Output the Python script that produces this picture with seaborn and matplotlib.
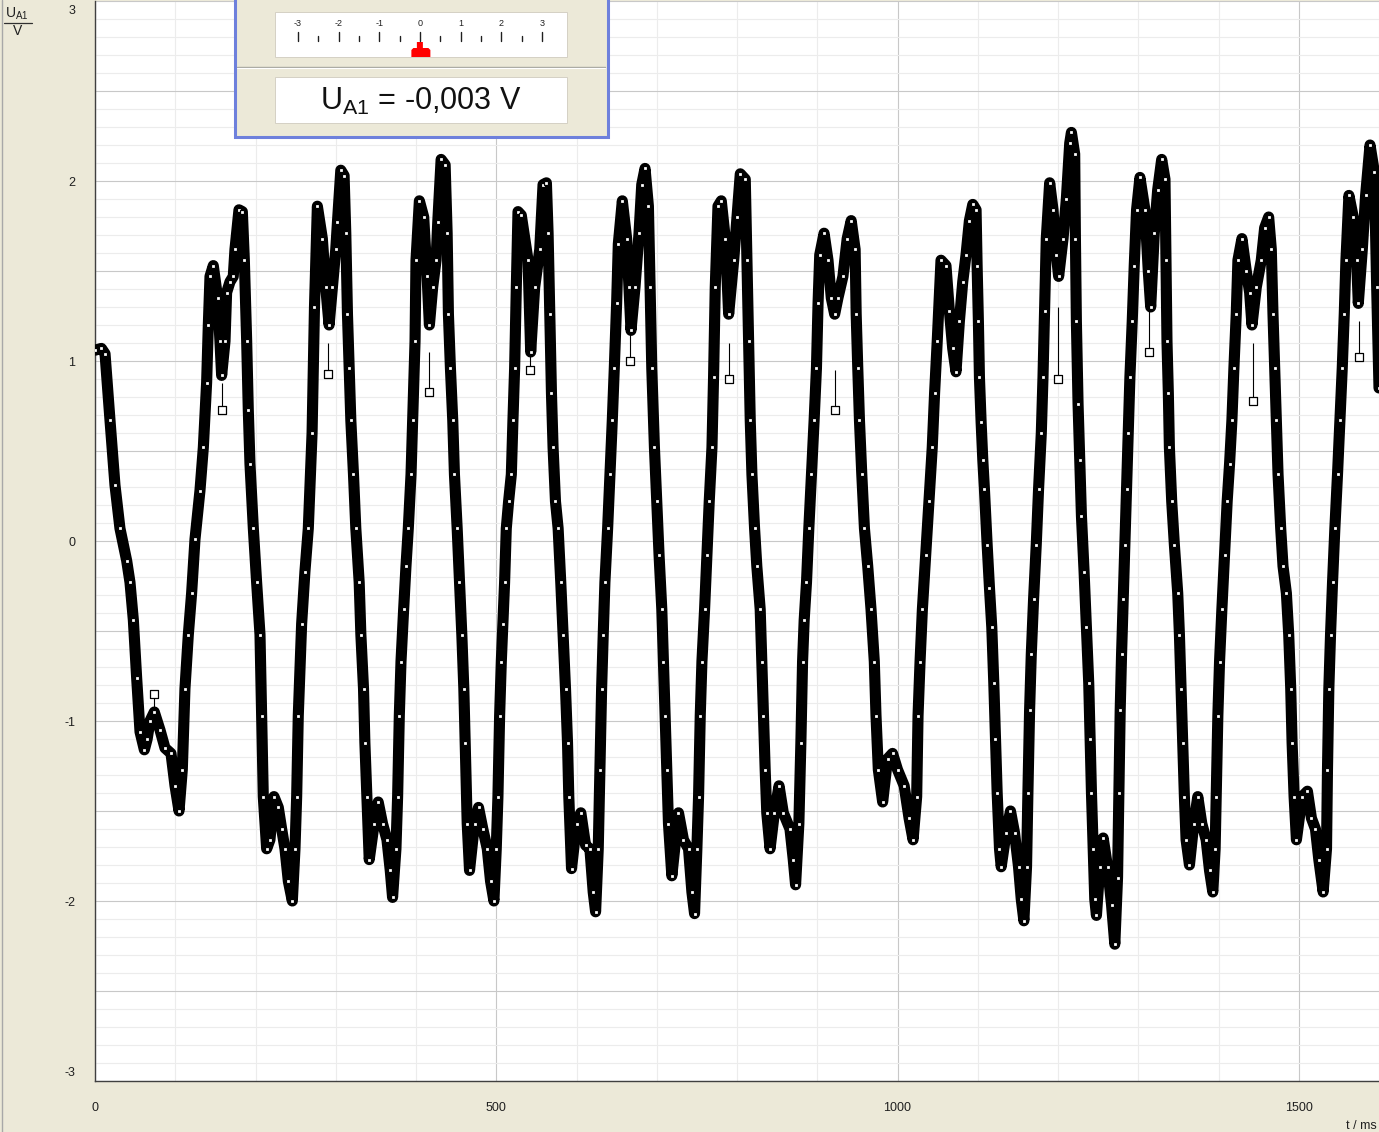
import numpy as np
import pandas as pd
import seaborn as sns
import matplotlib.pyplot as plt
from matplotlib.patches import Rectangle, Polygon
from matplotlib.ticker import MultipleLocator, FuncFormatter

# U_A1 (V) against t (ms)
t_ms = [0, 8, 12.5, 18.7, 24.9, 31.1, 39.5, 43.6, 47.8, 51.9, 56.1, 61.5, 65, 68.5, 73.9,
        81.0, 87.2, 94.7, 99.7, 104.7, 108.8, 112.1, 116.3, 120.4, 124.6, 130.8, 135.0,
        139.1, 141.2, 143.3, 147.4, 152.8, 155.7, 157.8, 162.0, 164.0, 168.2, 172.3, 174.4,
        179.4, 183.6, 186.1, 189.0, 191.0, 193.1, 197.3, 201.4, 205.6, 207.7, 209.7, 213.9,
        218.0, 223.0, 228.4, 232.6, 236.7, 240.9, 245.9, 249.2, 251.3, 253.3, 257.5, 261.6,
        265.8, 270.5, 273.5, 277.1, 283.3, 287.5, 291.7, 295.8, 300.0, 302.1, 306.3, 310.4,
        312.5, 314.6, 316.7, 318.8, 322.1, 325.0, 329.2, 331.3, 334.6, 336.3, 338.8, 341.7,
        347.9, 352.9, 358.3, 363.8, 367.9, 370.8, 375.0, 377.1, 379.2, 381.3, 384.6, 387.5,
        390.4, 393.8, 395.8, 398.8, 400.0, 404.2, 409.6, 413.8, 416.7, 420.8, 425.0, 427.1,
        431.3, 436.3, 438.8, 440.4, 442.9, 445.8, 447.9, 451.3, 454.2, 457.1, 459.6, 461.3,
        463.8, 466.7, 472.9, 477.9, 483.3, 488.8, 492.9, 497.1, 500.0, 502.1, 504.2, 506.3,
        508.3, 510.4, 512.5, 515.4, 518.8, 520.8, 522.9, 525.0, 527.1, 531.2, 539.6, 542.9,
        547.9, 554.2, 558.3, 562.5, 564.6, 566.7, 568.8, 570.8, 573.8, 577.1, 580.4, 583.3,
        586.3, 588.8, 590.4, 593.8, 600.0, 605.4, 611.3, 616.7, 620.8, 623.8, 627.1, 629.2,
        631.3, 633.3, 635.4, 638.8, 641.7, 644.6, 647.1, 650.0, 652.1, 657.1, 662.5, 665.4,
        667.9, 672.9, 677.9, 681.3, 685.4, 689.6, 691.7, 693.8, 697.1, 700.0, 702.9, 706.3,
        708.3, 710.4, 712.5, 714.6, 718.8, 727.1, 733.3, 739.6, 743.8, 747.1, 750.0, 752.1,
        754.2, 756.3, 759.6, 762.5, 765.4, 768.8, 770.8, 772.9, 776.3, 780.4, 785.4, 789.6,
        795.9, 800.0, 804.1, 810.3, 812.4, 814.4, 816.5, 818.6, 821.9, 824.7, 828.9, 830.9,
        833.0, 835.1, 837.1, 841.2, 846.6, 852.4, 857.7, 866.0, 870.1, 873.0, 877.1, 879.6,
        881.7, 883.7, 886.6, 889.5, 892.8, 896.1, 899.0, 901.0, 903.1, 908.5, 913.4, 917.5,
        921.7, 925.8, 932.0, 937.3, 942.3, 947.2, 948.5, 950.5, 952.6, 955.5, 958.8, 962.9,
        967.0, 971.1, 973.2, 976.1, 981.5, 987.6, 993.8, 1000.0, 1008.3, 1014.4, 1019.4,
        1023.9, 1025.6, 1028.1, 1031.0, 1035.1, 1039.2, 1043.3, 1046.2, 1049.5, 1054.2,
        1060.4, 1064.6, 1068.8, 1072.9, 1077.1, 1081.3, 1085.4, 1089.6, 1093.8, 1097.9,
        1099.2, 1100.8, 1102.1, 1104.2, 1106.3, 1108.3, 1111.7, 1114.6, 1117.5, 1120.0,
        1122.1, 1124.2, 1127.1, 1129.2, 1135.4, 1140.8, 1145.8, 1150.8, 1154.2, 1157.5,
        1160.8, 1162.5, 1164.6, 1166.7, 1169.6, 1172.9, 1175.8, 1179.2, 1181.3, 1183.3,
        1185.4, 1189.6, 1193.8, 1197.9, 1200.8, 1206.3, 1210.4, 1214.6, 1216.7, 1220.8,
        1221.7, 1222.9, 1225.0, 1227.1, 1229.2, 1232.5, 1235.4, 1238.3, 1240.0, 1241.7,
        1243.8, 1245.8, 1247.9, 1252.1, 1256.3, 1261.7, 1266.7, 1270.8, 1274.2, 1275.8,
        1277.5, 1279.2, 1281.3, 1283.3, 1285.4, 1287.5, 1289.6, 1292.5, 1295.0, 1297.9,
        1302.1, 1308.3, 1312.5, 1315.5, 1320.0, 1324.2, 1329.2, 1333.3, 1334.6, 1335.8,
        1337.5, 1338.8, 1341.7, 1345.0, 1349.2, 1351.3, 1353.3, 1355.4, 1357.5, 1359.6,
        1363.8, 1369.2, 1374.2, 1379.2, 1384.6, 1388.8, 1392.9, 1395.8, 1397.1, 1399.2,
        1401.3, 1404.2, 1407.5, 1410.8, 1413.8, 1416.7, 1419.2, 1422.1, 1424.2, 1429.2,
        1434.6, 1438.8, 1441.7, 1447.1, 1453.3, 1457.5, 1462.5, 1465.8, 1467.9, 1470.0,
        1472.1, 1474.2, 1477.5, 1480.4, 1484.6, 1487.5, 1490.0, 1491.7, 1494.2, 1497.1,
        1504.2, 1510.8, 1515.8, 1520.8, 1525.0, 1530.4, 1534.6, 1535.8, 1537.5, 1539.6,
        1542.1, 1545.0, 1548.3, 1551.3, 1554.2, 1556.7, 1558.8, 1562.5, 1567.9, 1572.1,
        1574.2, 1579.2, 1583.3, 1588.8, 1594.2, 1597.1, 1600.0]
u_v = [1.06, 1.07, 1.04, 0.67, 0.31, 0.07, -0.11, -0.23, -0.44, -0.76, -1.06, -1.16, -1.10,
       -1.00, -0.95, -1.05, -1.15, -1.18, -1.36, -1.50, -1.27, -0.82, -0.52, -0.29, 0.01,
       0.28, 0.52, 0.88, 1.20, 1.47, 1.53, 1.35, 1.11, 0.92, 1.11, 1.38, 1.44, 1.47, 1.62,
       1.84, 1.83, 1.56, 1.11, 0.73, 0.43, 0.07, -0.23, -0.52, -0.97, -1.42, -1.71, -1.66,
       -1.42, -1.48, -1.60, -1.71, -1.89, -2.00, -1.71, -1.42, -0.97, -0.46, -0.17, 0.07,
       0.60, 1.30, 1.86, 1.68, 1.41, 1.20, 1.41, 1.62, 1.77, 2.06, 2.03, 1.71, 1.26, 0.96,
       0.67, 0.37, 0.07, -0.23, -0.52, -0.82, -1.12, -1.42, -1.77, -1.57, -1.45, -1.57,
       -1.66, -1.83, -1.98, -1.71, -1.42, -0.97, -0.67, -0.38, -0.14, 0.07, 0.37, 0.67,
       1.11, 1.56, 1.89, 1.80, 1.47, 1.20, 1.41, 1.56, 1.77, 2.12, 2.09, 1.71, 1.26, 0.96,
       0.67, 0.37, 0.07, -0.23, -0.52, -0.82, -1.12, -1.57, -1.83, -1.57, -1.48, -1.60,
       -1.71, -1.89, -2.00, -1.71, -1.42, -0.97, -0.67, -0.46, -0.23, 0.07, 0.22, 0.37,
       0.67, 0.96, 1.41, 1.83, 1.81, 1.56, 1.05, 1.41, 1.62, 1.98, 1.99, 1.71, 1.26, 0.82,
       0.52, 0.22, 0.07, -0.23, -0.52, -0.82, -1.12, -1.42, -1.82, -1.57, -1.51, -1.69,
       -1.71, -1.95, -2.06, -1.71, -1.27, -0.82, -0.52, -0.23, 0.07, 0.37, 0.67, 0.96,
       1.32, 1.65, 1.89, 1.68, 1.41, 1.17, 1.41, 1.71, 1.98, 2.07, 1.86, 1.41, 0.96, 0.52,
       0.22, -0.08, -0.38, -0.67, -0.97, -1.27, -1.57, -1.86, -1.51, -1.66, -1.71, -1.95,
       -2.07, -1.71, -1.42, -0.97, -0.67, -0.38, -0.08, 0.22, 0.52, 0.91, 1.41, 1.86, 1.89,
       1.68, 1.26, 1.56, 1.80, 2.04, 2.01, 1.56, 1.11, 0.67, 0.37, 0.07, -0.14, -0.38,
       -0.67, -0.97, -1.27, -1.51, -1.71, -1.51, -1.36, -1.51, -1.60, -1.77, -1.91, -1.57,
       -1.12, -0.67, -0.44, -0.23, 0.07, 0.37, 0.67, 0.96, 1.32, 1.59, 1.71, 1.56, 1.35,
       1.26, 1.35, 1.47, 1.68, 1.78, 1.62, 1.26, 0.96, 0.67, 0.37, 0.07, -0.14, -0.38,
       -0.67, -0.97, -1.27, -1.45, -1.21, -1.18, -1.27, -1.36, -1.54, -1.66, -1.42, -0.97,
       -0.67, -0.38, -0.08, 0.22, 0.52, 0.82, 1.11, 1.56, 1.53, 1.28, 1.07, 0.94, 1.22,
       1.44, 1.59, 1.78, 1.87, 1.84, 1.53, 1.22, 0.91, 0.66, 0.45, 0.29, -0.02, -0.26,
       -0.48, -0.79, -1.10, -1.40, -1.71, -1.81, -1.62, -1.50, -1.62, -1.81, -1.99, -2.11,
       -1.81, -1.40, -0.94, -0.63, -0.32, -0.02, 0.29, 0.60, 0.91, 1.28, 1.68, 1.99, 1.84,
       1.59, 1.47, 1.68, 1.90, 2.21, 2.27, 2.15, 1.68, 1.22, 0.76, 0.45, 0.14, -0.17,
       -0.48, -0.79, -1.10, -1.40, -1.71, -1.99, -2.08, -1.81, -1.65, -1.81, -2.02, -2.24,
       -1.87, -1.40, -0.94, -0.63, -0.32, -0.02, 0.29, 0.60, 0.91, 1.22, 1.53, 1.84, 2.02,
       1.84, 1.50, 1.30, 1.71, 1.95, 2.12, 2.01, 1.56, 1.11, 0.82, 0.52, 0.22, -0.02,
       -0.29, -0.52, -0.82, -1.12, -1.42, -1.66, -1.80, -1.57, -1.42, -1.57, -1.66, -1.83,
       -1.95, -1.71, -1.42, -0.97, -0.67, -0.38, -0.08, 0.22, 0.43, 0.67, 0.96, 1.26,
       1.56, 1.68, 1.50, 1.38, 1.20, 1.41, 1.56, 1.74, 1.80, 1.62, 1.26, 0.96, 0.67, 0.37,
       0.07, -0.14, -0.29, -0.52, -0.82, -1.12, -1.42, -1.66, -1.42, -1.39, -1.54, -1.60,
       -1.77, -1.95, -1.71, -1.27, -0.82, -0.52, -0.23, 0.07, 0.37, 0.67, 0.96, 1.26, 1.56,
       1.92, 1.80, 1.56, 1.32, 1.62, 1.92, 2.20, 2.05, 1.41, 0.85]

# single stray samples standing out of the trace (time, trace level, sample value)
spike_t = [73.5, 158.5, 290.4, 416.7, 542.0, 667.0, 789.5, 922.0, 1200.5, 1313.0, 1442.5, 1574.5]
spike_base = [-0.95, 0.88, 1.10, 1.05, 1.10, 1.15, 1.10, 0.95, 1.30, 1.30, 1.10, 1.22]
spike_v = [-0.85, 0.73, 0.93, 0.83, 0.95, 1.00, 0.90, 0.73, 0.90, 1.05, 0.78, 1.02]

# analogue display in the box
meter_scale = [-3, -2, -1, 0, 1, 2, 3]
meter_value = -0.003

BEIGE = '#ECE9D8'
W, H = 1379, 1132

sns.set_style('white')
plt.rcParams['font.family'] = ['Liberation Sans', 'DejaVu Sans']
plt.rcParams['mathtext.fontset'] = 'custom'
plt.rcParams['mathtext.rm'] = 'Liberation Sans'
plt.rcParams['mathtext.it'] = 'Liberation Sans:italic'

fig = plt.figure(figsize=(W / 100, H / 100), dpi=100, facecolor=BEIGE)
ax = fig.add_axes([95 / W, (H - 1081) / H, 1284 / W, 1080 / H])
ax.set_facecolor('white')

df = pd.DataFrame({'t': t_ms, 'u': u_v})
sns.lineplot(data=df, x='t', y='u', ax=ax, sort=False, estimator=None, color='black',
             linewidth=8, marker='s', markersize=3.4, markerfacecolor='white',
             markeredgecolor='black', markeredgewidth=0.9,
             solid_joinstyle='round', solid_capstyle='round', zorder=3)
ax.vlines(spike_t, spike_base, spike_v, color='black', lw=0.8, zorder=2)
sns.scatterplot(x=spike_t, y=spike_v, ax=ax, marker='s', s=28, facecolor='white',
                edgecolor='black', linewidth=0.9, zorder=4)

ax.set_xlim(0, 1600)
ax.set_ylim(-3, 3)
ax.set_xlabel('')
ax.set_ylabel('')
ax.xaxis.set_major_locator(MultipleLocator(500))
ax.xaxis.set_minor_locator(MultipleLocator(100))
ax.yaxis.set_major_locator(MultipleLocator(0.5))
ax.yaxis.set_minor_locator(MultipleLocator(0.1))
# integer labels only; the two end labels are set inside the frame below
ax.yaxis.set_major_formatter(FuncFormatter(
    lambda v, p: str(int(round(v))) if abs(v - round(v)) < 1e-6 and abs(v) < 2.5 else ''))
ax.grid(which='major', color='#C8C8C8', lw=0.8)
ax.grid(which='minor', color='#ECECEC', lw=0.8)
ax.set_axisbelow(True)

ax.tick_params(axis='x', which='major', direction='out', length=11, width=0.9,
               color='#404040', pad=4, labelsize=9, labelcolor='#202020')
ax.tick_params(axis='x', which='minor', direction='out', length=7, width=0.9, color='#404040')
ax.tick_params(axis='y', which='major', direction='out', length=7.2, width=0.9,
               color='#404040', pad=7, labelsize=9, labelcolor='#202020')
ax.tick_params(axis='y', which='minor', direction='out', length=3.6, width=0.9, color='#404040')
for s in ['top', 'right']:
    ax.spines[s].set_visible(False)
for s in ['left', 'bottom']:
    ax.spines[s].set_color('#404040')
    ax.spines[s].set_linewidth(1)

# overlay in pixel units for the window decorations
ov = fig.add_axes([0, 0, 1, 1])
ov.set_xlim(0, W)
ov.set_ylim(H, 0)
ov.axis('off')

ov.plot([2, 2], [0, H], color='#A8A8A8', lw=1)

# end labels of the value axis, pushed inside like on the screen
ov.text(75, 5, '3', ha='right', va='top', fontsize=9, color='#202020')
ov.text(75, 1079, '-3', ha='right', va='bottom', fontsize=9, color='#202020')

# axis captions
ov.text(17, 18, r'U$_{\mathrm{A1}}$', ha='center', va='baseline', fontsize=10, color='#202020')
ov.plot([4, 32], [23, 23], color='#303030', lw=0.9)
ov.text(17.5, 35, 'V', ha='center', va='baseline', fontsize=10, color='#202020')
ov.text(1377, 1129, 't / ms', ha='right', va='baseline', fontsize=9, color='#202020')

# display box with meter and reading
ov.add_patch(Rectangle((234.5, -10), 373, 146.5, facecolor=BEIGE, edgecolor='#6E80DC', lw=2.2))
ov.add_patch(Rectangle((275, 12), 292, 45, facecolor='white', edgecolor='#D4D0C4', lw=0.7))
x0, step = 420, 40.7
for v in meter_scale:
    x = x0 + step * v
    ov.plot([x, x], [32, 41], color='#202020', lw=1)
    ov.text(x, 23, str(v), ha='center', va='center', fontsize=6.5, color='#202020')
for v in meter_scale[:-1]:
    x = x0 + step * (v + 0.5)
    ov.plot([x, x], [36, 41], color='#202020', lw=1)
px = x0 + step * meter_value
ov.add_patch(Polygon([(px - 8.5, 57), (px - 8.5, 50), (px - 6.5, 48), (px - 3, 48), (px - 3, 42),
                      (px + 3, 42), (px + 3, 48), (px + 8.5, 48), (px + 10.5, 50), (px + 10.5, 57)],
                     closed=True, facecolor='#FF0000', edgecolor='none'))
ov.plot([237, 605], [67, 67], color='#A8A8A0', lw=1)
ov.plot([237, 605], [68, 68], color='white', lw=0.8)
ov.add_patch(Rectangle((275, 77), 292, 46, facecolor='white', edgecolor='#D4D0C4', lw=0.7))
ov.text(420.5, 110, r'U$_{\mathrm{A1}}$ = -0,003 V', ha='center', va='baseline',
        fontsize=22, color='#111111')

fig.savefig('out.png', dpi=100, facecolor=BEIGE)
